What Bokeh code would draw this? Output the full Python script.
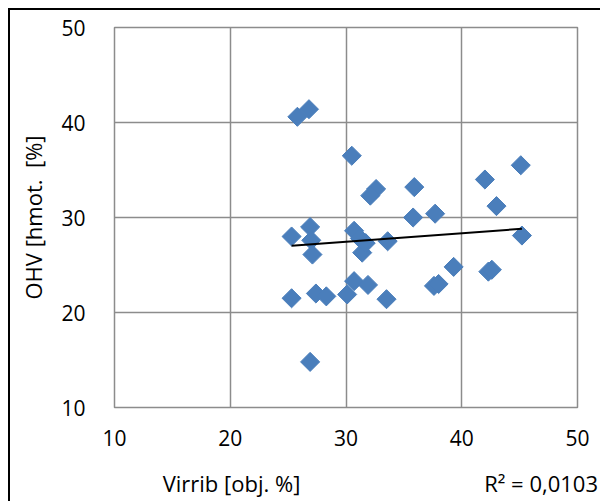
import numpy as np
from bokeh.plotting import figure
from bokeh.layouts import column
from bokeh.models import ColumnDataSource, Div, FixedTicker, Range1d
from bokeh.embed import file_html
from bokeh.resources import INLINE

virrib = [25.8, 26.8, 30.5, 45.1, 42.0, 32.6, 32.1, 35.9, 43.0, 35.8, 37.7,
          25.3, 26.9, 27.0, 27.1, 30.7, 31.2, 31.4, 31.7, 33.6, 45.2,
          25.3, 27.4, 28.3, 30.1, 30.7, 31.9, 33.5, 37.6, 38.0, 39.3, 42.3, 42.6, 26.9]
ohv = [40.6, 41.4, 36.5, 35.5, 34.0, 33.0, 32.3, 33.2, 31.2, 30.0, 30.4,
       28.0, 29.0, 27.6, 26.1, 28.6, 27.8, 26.3, 27.3, 27.5, 28.1,
       21.5, 22.0, 21.7, 21.9, 23.3, 22.9, 21.4, 22.8, 23.0, 24.8, 24.3, 24.5, 14.8]
ticks = [10, 20, 30, 40, 50]
x_title = "Virrib [obj. %]"
y_title = "OHV [hmot.\u00a0 [%]"
r2_text = "R² = 0,0103"

FONT = "Open Sans"
TICK_FS = "21px"
TITLE_FS = "22px"

p = figure(width=589, height=460, output_backend="svg", toolbar_location=None,
           x_range=Range1d(10, 50), y_range=Range1d(10, 50),
           min_border_left=104, min_border_right=22, min_border_top=17, min_border_bottom=63)

src = ColumnDataSource(dict(x=virrib, y=ohv))
p.scatter("x", "y", source=src, marker="square", size=13.5, angle=np.pi / 4,
          fill_color="#4a7ebb", line_color="#4a7ebb")

# linear trend line
k, b = np.polyfit(virrib, ohv, 1)
xs = [min(virrib), max(virrib)]
p.line(xs, [k * v + b for v in xs], line_color="black", line_width=2)

xa = p.xaxis[0]
ya = p.yaxis[0]
for ax in (xa, ya):
    ax.ticker = FixedTicker(ticks=ticks)
    ax.axis_line_color = None
    ax.major_tick_line_color = None
    ax.minor_tick_line_color = None
    ax.major_tick_out = 0
    ax.major_tick_in = 0
    ax.minor_tick_out = 0
    ax.major_label_text_font = FONT
    ax.major_label_text_font_size = TICK_FS
    ax.major_label_text_color = "black"

xa.major_label_standoff = 22
ya.major_label_standoff = 29
ya.axis_label = y_title
ya.axis_label_text_font = FONT
ya.axis_label_text_font_size = TITLE_FS
ya.axis_label_text_font_style = "normal"
ya.axis_label_text_color = "black"
ya.axis_label_standoff = 10

for g in (p.xgrid[0], p.ygrid[0]):
    g.ticker = FixedTicker(ticks=ticks)
    g.grid_line_color = "#8c8c8c"
    g.grid_line_width = 1.5

p.outline_line_color = "#8c8c8c"
p.outline_line_width = 1.5
p.background_fill_color = "white"
p.border_fill_color = "white"

# bottom strip holding the x title and the R² note
html = (
    f'<div style="position:relative;width:589px;height:30px;'
    f'font-family:\'{FONT}\';font-size:{TITLE_FS};line-height:24px;color:black;white-space:nowrap">'
    f'<span style="position:absolute;left:216.5px;top:-4px;transform:translateX(-50%)">{x_title}</span>'
    f'<span style="position:absolute;right:6px;top:-4px">{r2_text}</span>'
    f'</div>'
)
strip = Div(text=html, width=589, height=30, styles={"background-color": "white"})

layout = column(p, strip, spacing=0)
layout.styles = {"margin-left": "8px", "margin-top": "8px",
                 "border-top": "2px solid black", "border-left": "2px solid black"}
open("out.html", "w").write(file_html(layout, INLINE))
